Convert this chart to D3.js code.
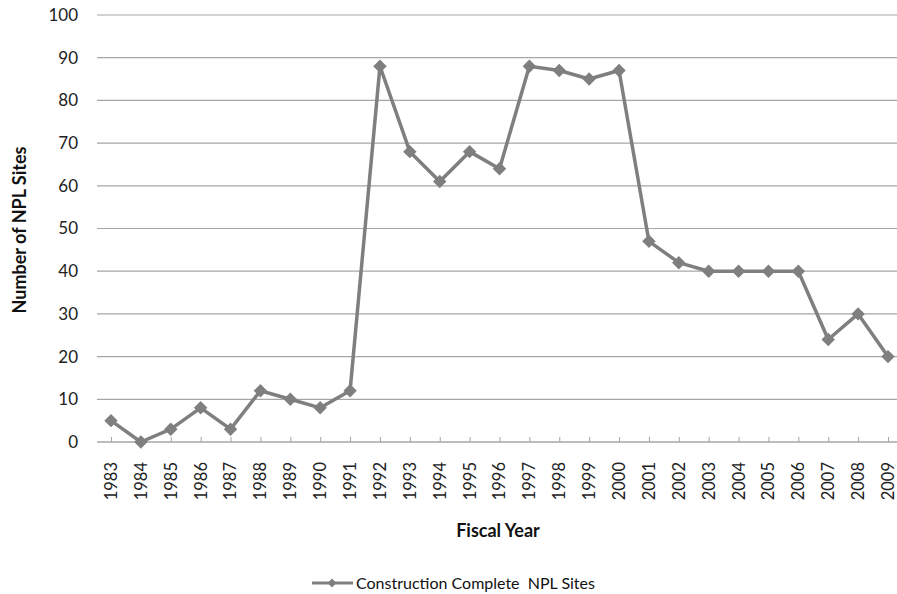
<!DOCTYPE html>
<html><head><meta charset="utf-8">
<script src="https://cdn.jsdelivr.net/npm/d3@7"></script>
<style>body{margin:0;background:#fff;} svg{display:block;}</style>
</head><body>
<script>
const years = ["1983","1984","1985","1986","1987","1988","1989","1990","1991","1992","1993","1994","1995","1996","1997","1998","1999","2000","2001","2002","2003","2004","2005","2006","2007","2008","2009"];
const sites = [5,0,3,8,3,12,10,8,12,88,68,61,68,64,88,87,85,87,47,42,40,40,40,40,24,30,20];
const yTicks = [0,10,20,30,40,50,60,70,80,90,100];
const seriesName = "Construction Complete  NPL Sites";
const xTitle = "Fiscal Year";
const yTitle = "Number of NPL Sites";

const W = 897, H = 594;
const font = "Lato, 'Open Sans', sans-serif";
const svg = d3.select("body").append("svg").attr("width", W).attr("height", H);

const plotL = 97, plotR = 897, plotT = 15, plotB = 442;
const x = d3.scalePoint().domain(years).range([111, 888]);
const y = d3.scaleLinear().domain([0, 100]).range([plotB, plotT]);
const col = "#7f7f7f";

// gridlines
svg.append("g").selectAll("line").data(yTicks.filter(d => d > 0)).join("line")
  .attr("x1", plotL).attr("x2", plotR)
  .attr("y1", d => y(d)).attr("y2", d => y(d))
  .attr("stroke", "#a6a6a6").attr("stroke-width", 1.2);

// y axis labels
const yAxis = d3.axisLeft(y).tickValues(yTicks).tickSize(0).tickPadding(0);
const gy = svg.append("g").attr("transform", `translate(78,0)`).call(yAxis);
gy.select(".domain").remove();
gy.selectAll("text").attr("font-family", font).attr("font-size", 17).attr("fill", "#222");

// x axis
const xAxis = d3.axisBottom(x).tickSizeInner(-5).tickSizeOuter(0).tickPadding(0);
const gx = svg.append("g").attr("transform", `translate(0,${plotB})`).call(xAxis);
gx.select(".domain").attr("d", `M${plotL},0H${plotR}`).attr("stroke", "#a6a6a6").attr("stroke-width", 1.5);
gx.selectAll(".tick line").attr("stroke", "#a6a6a6");
gx.selectAll("text")
  .attr("font-family", font).attr("font-size", 16.5).attr("fill", "#222")
  .attr("transform", "rotate(-90)")
  .attr("text-anchor", "end").attr("dy", "0.33em").attr("x", -20).attr("y", 0);

// line
const line = d3.line().x((d, i) => x(years[i])).y(d => y(d));
svg.append("path").datum(sites).attr("d", line)
  .attr("fill", "none").attr("stroke", col).attr("stroke-width", 3.5).attr("stroke-linejoin", "round");

const diamond = d3.symbol().type(d3.symbolDiamond2).size(115);
svg.append("g").selectAll("path").data(sites).join("path")
  .attr("d", diamond)
  .attr("transform", (d, i) => `translate(${x(years[i])},${y(d)})`)
  .attr("fill", col);

// axis titles
svg.append("text").attr("x", 498).attr("y", 537).attr("text-anchor", "middle")
  .attr("font-family", font).attr("font-weight", "bold").attr("font-size", 18).attr("fill", "#111")
  .text(xTitle);
svg.append("text").attr("transform", "translate(26,230) rotate(-90)").attr("text-anchor", "middle")
  .attr("font-family", font).attr("font-weight", "bold").attr("font-size", 18).attr("fill", "#111")
  .text(yTitle);

// legend
const lg = svg.append("g").attr("transform", "translate(312,583)");
lg.append("line").attr("x1", 0).attr("x2", 41).attr("y1", 0).attr("y2", 0)
  .attr("stroke", col).attr("stroke-width", 3);
lg.append("path").attr("d", d3.symbol().type(d3.symbolDiamond2).size(50)).attr("transform", "translate(20,0)").attr("fill", col);
lg.append("text").attr("x", 44).attr("y", 0).attr("dy", "0.35em")
  .attr("font-family", font).attr("font-size", 16).attr("fill", "#111")
  .attr("xml:space", "preserve").style("white-space", "pre")
  .text(seriesName);
</script>
</body></html>
